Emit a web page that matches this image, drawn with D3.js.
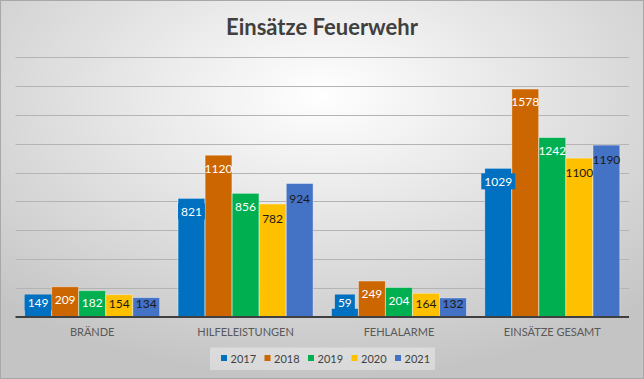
<!DOCTYPE html>
<html><head><meta charset="utf-8">
<script src="https://cdn.jsdelivr.net/npm/d3@7"></script>
<style>html,body{margin:0;padding:0;background:#fff}svg{display:block}</style>
</head><body>
<script>
const categories = ["BRÄNDE", "HILFELEISTUNGEN", "FEHLALARME", "EINSÄTZE GESAMT"];
const years = ["2017", "2018", "2019", "2020", "2021"];
const v2017 = [149, 821, 59, 1029];
const v2018 = [209, 1120, 249, 1578];
const v2019 = [182, 856, 204, 1242];
const v2020 = [154, 782, 164, 1100];
const v2021 = [134, 924, 132, 1190];
const seriesValues = [v2017, v2018, v2019, v2020, v2021];
const yTicks = [0, 200, 400, 600, 800, 1000, 1200, 1400, 1600, 1800];
const colors = ["#0070C0", "#CC6600", "#00B050", "#FFC000", "#4472C4"];
const labelColors = ["#ffffff", "#ffffff", "#ffffff", "#1a1a1a", "#1a1a1a"];

const W = 644, H = 379;
const font = "Lato, 'Open Sans', sans-serif";
const svg = d3.select("body").append("svg").attr("width", W).attr("height", H);
const defs = svg.append("defs");
const grad = defs.append("radialGradient").attr("id", "bg")
  .attr("cx", "50%").attr("cy", "25%").attr("r", "75%");
grad.append("stop").attr("offset", "0%").attr("stop-color", "#ffffff");
grad.append("stop").attr("offset", "100%").attr("stop-color", "#c4c4c4");
svg.append("rect").attr("x", 0.5).attr("y", 0.5).attr("width", W - 1).attr("height", H - 1)
  .attr("fill", "url(#bg)").attr("stroke", "#a8a8a8").attr("stroke-width", 1);

svg.append("text").attr("x", W / 2).attr("y", 35).attr("text-anchor", "middle")
  .attr("font-family", font).attr("font-weight", "bold").attr("font-size", 22)
  .attr("fill", "#404040").text("Einsätze Feuerwehr");

const plot = {left: 15.5, right: 629, top: 57, bottom: 317};
const x0 = d3.scaleBand().domain(categories).range([plot.left, plot.right]).paddingInner(0).paddingOuter(0);
const gpad = 9.2;
const x1 = d3.scaleBand().domain(years).range([gpad, x0.bandwidth() - gpad]).paddingInner(0.01).paddingOuter(0);
const y = d3.scaleLinear().domain([0, 1800]).range([plot.bottom, plot.top]);

// gridlines
svg.append("g").selectAll("line").data(yTicks.slice(1)).join("line")
  .attr("x1", plot.left).attr("x2", plot.right)
  .attr("y1", d => Math.round(y(d)) + 0.5).attr("y2", d => Math.round(y(d)) + 0.5)
  .attr("stroke", "#b4b4b4").attr("stroke-width", 1);

// bars
const groups = svg.append("g").selectAll("g").data(categories).join("g")
  .attr("transform", d => `translate(${x0(d)},0)`);
groups.selectAll("rect").data((c, ci) => years.map((yr, si) => ({yr, si, v: seriesValues[si][ci]})))
  .join("rect")
  .attr("x", d => x1(d.yr)).attr("width", x1.bandwidth())
  .attr("y", d => y(d.v)).attr("height", d => y(0) - y(d.v))
  .attr("fill", d => colors[d.si]).attr("stroke", "rgba(255,255,255,0.45)").attr("stroke-width", 0.8);

// axis line
svg.append("line").attr("x1", plot.left).attr("x2", plot.right)
  .attr("y1", plot.bottom).attr("y2", plot.bottom)
  .attr("stroke", "#404040").attr("stroke-width", 2);

// data labels
groups.each(function(c, ci) {
  const g = d3.select(this);
  years.forEach((yr, si) => {
    const v = seriesValues[si][ci];
    const off = si >= 3 ? 15 : 13;
    const cy = Math.min(y(v) + off, si >= 3 ? 304 : 302.5);
    const cx = x1(yr) + x1.bandwidth() / 2;
    const t = g.append("text").attr("x", cx).attr("y", cy).attr("dy", "0.36em")
      .attr("text-anchor", "middle").attr("font-family", font).attr("font-size", 12)
      .attr("fill", labelColors[si]).text(v);
    if (si === 0) {
      const bb = t.node().getBBox();
      g.insert("rect", () => t.node()).attr("x", bb.x - 3).attr("y", cy - 8)
        .attr("width", bb.width + 6).attr("height", 16).attr("fill", colors[0]);
    }
  });
});

// category labels
svg.append("g").selectAll("text").data(categories).join("text")
  .attr("x", d => x0(d) + x0.bandwidth() / 2).attr("y", 336)
  .attr("text-anchor", "middle").attr("font-family", font).attr("font-size", 11)
  .attr("fill", "#595959").text(d => d);

// legend
const lg = svg.append("g");
lg.append("rect").attr("x", 210).attr("y", 347.5).attr("width", 225).attr("height", 22.5)
  .attr("fill", "#ffffff").attr("fill-opacity", 0.35);
const lx = d3.scalePoint().domain(years).range([221, 395]);
years.forEach((yr, i) => {
  lg.append("rect").attr("x", lx(yr)).attr("y", 355).attr("width", 6).attr("height", 6)
    .attr("fill", colors[i]);
  lg.append("text").attr("x", lx(yr) + 9.5).attr("y", 362.5).attr("font-family", font)
    .attr("font-size", 11).attr("fill", "#404040").text(yr);
});
</script>
</body></html>
